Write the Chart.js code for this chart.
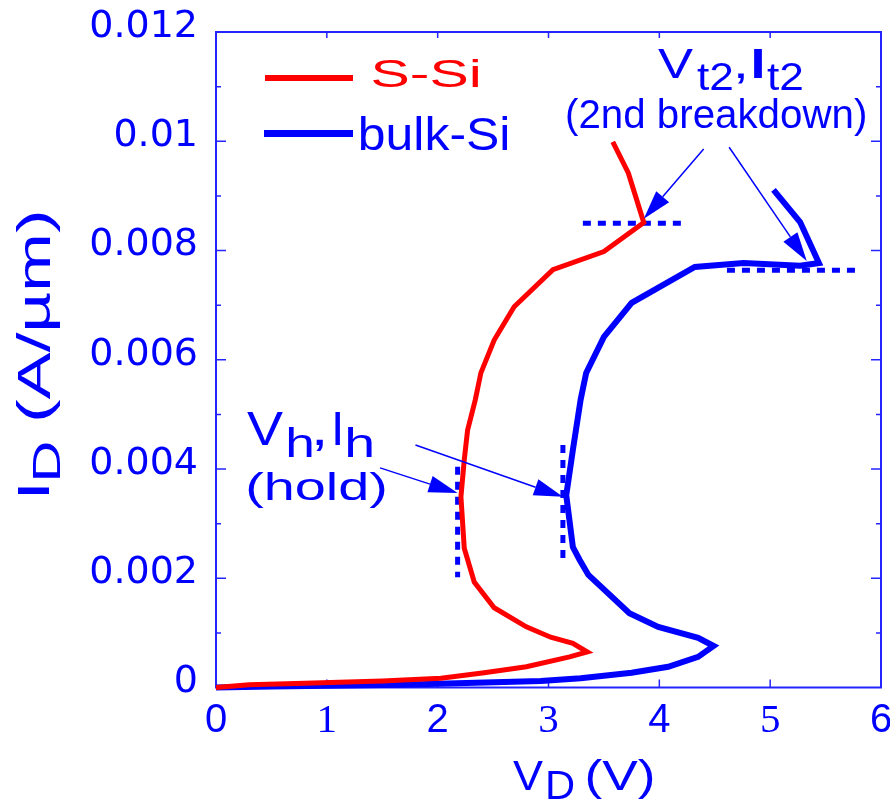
<!DOCTYPE html>
<html><head><meta charset="utf-8">
<script src="https://cdn.jsdelivr.net/npm/chart.js@4.4.0/dist/chart.umd.min.js"></script>
<style>html,body{margin:0;padding:0;background:#fff;overflow:hidden}#wrap{position:relative;width:890px;height:800px}</style>
</head><body><div id="wrap"><canvas id="c" width="890" height="800"></canvas></div>
<script>
// ---- data (V in volts, I in A/um) ----
const seriesNames = ['S-Si', 'bulk-Si'];
const sSiV = [0, 0.3, 0.8, 1.5, 2.03, 2.42, 2.80, 3.19, 3.35, 3.22, 3.02, 2.80, 2.51, 2.33, 2.24, 2.21, 2.24, 2.27, 2.34, 2.39, 2.51, 2.69, 3.04, 3.50, 3.86, 3.72, 3.58];
const sSiI = [0, 0.00005, 0.00008, 0.00012, 0.00017, 0.00027, 0.00038, 0.00056, 0.00065, 0.00081, 0.00092, 0.00111, 0.00146, 0.00193, 0.00255, 0.00349, 0.00417, 0.00471, 0.00527, 0.00576, 0.00636, 0.00697, 0.00765, 0.00798, 0.00851, 0.00942, 0.00999];
const bulkV = [0, 0.5, 1.67, 2.93, 3.29, 3.75, 4.08, 4.35, 4.49, 4.35, 3.99, 3.73, 3.36, 3.28, 3.22, 3.16, 3.22, 3.29, 3.34, 3.50, 3.75, 4.32, 4.76, 5.27, 5.44, 5.27, 5.03];
const bulkI = [0, 0.00002, 0.00005, 0.00012, 0.00017, 0.00027, 0.00038, 0.00056, 0.00076, 0.00091, 0.00111, 0.00136, 0.00206, 0.00234, 0.00257, 0.00352, 0.00435, 0.00527, 0.00576, 0.00642, 0.00704, 0.00770, 0.00777, 0.00772, 0.00777, 0.00852, 0.00911];
const xTickValues = [0, 1, 2, 3, 4, 5, 6];
const xTickLabels = ['0', '1', '2', '3', '4', '5', '6'];
const yTickValues = [0, 0.002, 0.004, 0.006, 0.008, 0.010, 0.012];
const yTickLabels = ['0', '0.002', '0.004', '0.006', '0.008', '0.01', '0.012'];
// annotation marks (data coordinates)
const t2LineS = [[3.31, 0.0085], [4.22, 0.0085]];
const t2LineB = [[4.61, 0.00764], [5.78, 0.00764]];
const holdLineS = [[2.18, 0.00404], [2.18, 0.00202]];
const holdLineB = [[3.13, 0.00444], [3.13, 0.00235]];
const arrows = [
  [[4.40, 0.00986], [3.86, 0.00858]],
  [[4.63, 0.00989], [5.33, 0.00781]],
  [[1.48, 0.00402], [2.18, 0.00356]],
  [[1.80, 0.00444], [3.13, 0.00349]]
];

const RED = '#ff0000', BLUE = '#0000ff', AXIS = '#2424ff';
const pts = (xs, ys) => xs.map((v, i) => ({ x: v, y: ys[i] }));
const seg = a => a.map(p => ({ x: p[0], y: p[1] }));
const dotted = a => ({ data: seg(a), showLine: true, borderColor: BLUE, borderWidth: 5, borderDash: [8, 7], borderCapStyle: 'butt', pointRadius: 0, clip: false });

function fitText(ctx, str, x, y, font, w, color) {
  ctx.save();
  ctx.font = font; ctx.fillStyle = color; ctx.textAlign = 'left'; ctx.textBaseline = 'alphabetic';
  const m = ctx.measureText(str);
  const ink = m.actualBoundingBoxLeft + m.actualBoundingBoxRight;
  const sx = w / ink;
  ctx.translate(x, y); ctx.scale(sx, 1);
  ctx.fillText(str, m.actualBoundingBoxLeft, 0);
  ctx.restore();
}

const deco = {
  id: 'deco',
  beforeDatasetsDraw(ch) {
    const c = ch.ctx, a = ch.chartArea, xs = ch.scales.x, ys = ch.scales.y;
    c.save();
    c.strokeStyle = AXIS; c.lineWidth = 2;
    c.strokeRect(a.left, a.top, a.right - a.left, a.bottom - a.top);
    c.lineWidth = 1.5;
    c.beginPath();
    for (let k = 1; k < 12; k++) {
      const y = ys.getPixelForValue(k * 0.001);
      const len = k % 2 === 0 ? 10 : 5;
      c.moveTo(a.left, y); c.lineTo(a.left + len, y);
      c.moveTo(a.right, y); c.lineTo(a.right - len, y);
    }
    for (let k = 1; k < 6; k++) {
      const x = xs.getPixelForValue(k);
      c.moveTo(x, a.bottom); c.lineTo(x, a.bottom - 8);
      c.moveTo(x, a.top); c.lineTo(x, a.top + 6);
    }
    c.stroke();
    c.restore();
  },
  afterDraw(ch) {
    const c = ch.ctx, xs = ch.scales.x, ys = ch.scales.y;
    // arrows
    c.save();
    c.strokeStyle = BLUE; c.fillStyle = BLUE; c.lineWidth = 1.5;
    arrows.forEach(([f, t]) => {
      const x1 = xs.getPixelForValue(f[0]), y1 = ys.getPixelForValue(f[1]);
      const x2 = xs.getPixelForValue(t[0]), y2 = ys.getPixelForValue(t[1]);
      const ang = Math.atan2(y2 - y1, x2 - x1), L = 29, H = 8.5;
      const bx = x2 - L * Math.cos(ang), by = y2 - L * Math.sin(ang);
      c.beginPath(); c.moveTo(x1, y1); c.lineTo(bx, by); c.stroke();
      c.beginPath(); c.moveTo(x2, y2);
      c.lineTo(bx + H * Math.sin(ang), by - H * Math.cos(ang));
      c.lineTo(bx - H * Math.sin(ang), by + H * Math.cos(ang));
      c.closePath(); c.fill();
    });
    c.restore();
    // legend
    c.save();
    c.lineCap = 'butt';
    c.strokeStyle = RED; c.lineWidth = 6; c.beginPath(); c.moveTo(265, 78); c.lineTo(353, 78); c.stroke();
    c.strokeStyle = BLUE; c.lineWidth = 7; c.beginPath(); c.moveTo(264, 133.5); c.lineTo(353, 133.5); c.stroke();
    c.restore();
    const F = 'Liberation Sans, Arial, sans-serif';
    fitText(c, seriesNames[0], 372, 87, '38px ' + F, 106, RED);
    fitText(c, seriesNames[1], 360, 150, '46px ' + F, 148, BLUE);
    // Vt2, It2 label
    fitText(c, 'V', 658, 78, '42px ' + F, 35, BLUE);
    fitText(c, 't2', 697, 90, '39px ' + F, 35, BLUE);
    fitText(c, ',', 737, 78, '42px ' + F, 7, BLUE);
    fitText(c, 'I', 753, 78, 'bold 42px ' + F, 9, BLUE);
    fitText(c, 't2', 767, 90, '39px ' + F, 35, BLUE);
    fitText(c, '(2nd breakdown)', 567, 128, '40px ' + F, 298, BLUE);
    // Vh, Ih label
    fitText(c, 'V', 247, 445, '48px ' + F, 36, BLUE);
    fitText(c, 'h', 288, 457, '40px ' + F, 24, BLUE);
    fitText(c, ',', 316, 445, '48px ' + F, 8, BLUE);
    fitText(c, 'I', 335, 445, '48px ' + F, 5, BLUE);
    fitText(c, 'h', 347, 457, '40px ' + F, 25, BLUE);
    fitText(c, '(hold)', 248, 500, '39px ' + F, 137, BLUE);
    // x axis title
    fitText(c, 'V', 513, 790, '42px ' + F, 30, BLUE);
    fitText(c, 'D', 548, 799, '40px ' + F, 25, BLUE);
    fitText(c, '(V)', 587, 790, '42px ' + F, 66, BLUE);
    // y axis title (rotated)
    c.save();
    c.translate(49, 494); c.rotate(-Math.PI / 2);
    fitText(c, 'I', 0, 0, 'bold 45px ' + F, 7, BLUE);
    c.restore();
    c.save();
    c.translate(60, 478); c.rotate(-Math.PI / 2);
    fitText(c, 'D', 0, 0, '38px ' + F, 35, BLUE);
    c.restore();
    c.save();
    c.translate(50, 420); c.rotate(-Math.PI / 2);
    fitText(c, '(A/\u00B5m)', 0, 0, '46px ' + F, 207, BLUE);
    c.restore();
  }
};

new Chart(document.getElementById('c').getContext('2d'), {
  type: 'scatter',
  data: {
    datasets: [
      { label: seriesNames[0], data: pts(sSiV, sSiI), showLine: true, borderColor: RED, borderWidth: 5, pointRadius: 0, clip: false },
      { label: seriesNames[1], data: pts(bulkV, bulkI), showLine: true, borderColor: BLUE, borderWidth: 6, pointRadius: 0, clip: false },
      dotted(t2LineS), dotted(t2LineB), dotted(holdLineS), dotted(holdLineB)
    ]
  },
  options: {
    responsive: false, animation: false, devicePixelRatio: 1,
    layout: { padding: { left: 0, right: 9, top: 32, bottom: 0 } },
    plugins: { legend: { display: false }, tooltip: { enabled: false } },
    scales: {
      x: {
        type: 'linear', min: 0, max: 6,
        afterFit(s) { s.height = 112.5; s.paddingLeft = 0; s.paddingRight = 0; },
        afterBuildTicks(s) { s.ticks = xTickValues.map(v => ({ value: v })); },
        grid: { display: false, drawTicks: false }, border: { display: false },
        ticks: {
          padding: 9, color: BLUE, maxRotation: 0, autoSkip: false,
          font: (ctx) => (ctx.tick && ctx.tick.value % 2 === 1) ? { family: 'Liberation Serif', size: 41 } : { family: 'Liberation Sans', size: 40 },
          callback: (v, i) => xTickLabels[i]
        }
      },
      y: {
        type: 'linear', min: 0, max: 0.012,
        afterFit(s) { s.width = 216; s.paddingTop = 0; s.paddingBottom = 0; },
        afterBuildTicks(s) { s.ticks = yTickValues.map(v => ({ value: v })); },
        grid: { display: false, drawTicks: false }, border: { display: false },
        ticks: {
          padding: 18, color: BLUE, labelOffset: -5, autoSkip: false,
          font: { family: 'DejaVu Sans', size: 38 },
          callback: (v, i) => yTickLabels[i]
        }
      }
    }
  },
  plugins: [deco]
});
</script></body></html>
